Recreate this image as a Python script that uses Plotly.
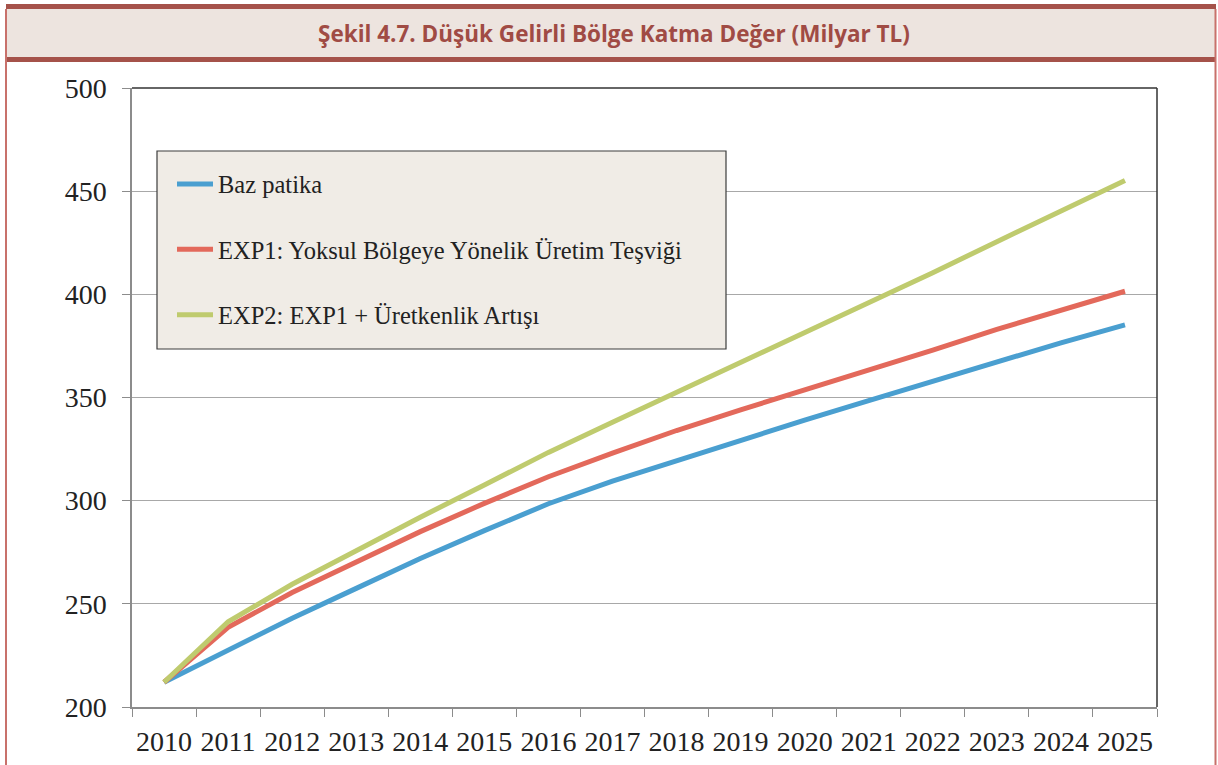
import plotly.graph_objects as go

years = [str(y) for y in range(2010, 2026)]
baz = [212, 227.5, 243, 257.5, 272, 285.5, 298.5, 309.5, 319.5, 329.5, 339, 348.5, 358, 367.5, 376.5, 385.2]
exp1 = [212, 238.6, 255.5, 270.5, 285, 298.7, 311.6, 323, 334, 344, 353.5, 363, 373, 383, 392.5, 401.5]
exp2 = [212, 241.3, 259.5, 276, 292, 307.6, 323.4, 338, 352.5, 367, 381, 396, 410.5, 425.5, 440.5, 455.2]
names = ["Baz patika", "EXP1: Yoksul Bölgeye Yönelik Üretim Teşviği", "EXP2: EXP1 + Üretkenlik Artışı"]
colors = ["#4A9FD0", "#E3695B", "#BFCB6E"]
title_text = "Şekil 4.7. Düşük Gelirli Bölge Katma Değer (Milyar TL)"
y_ticks = [200, 250, 300, 350, 400, 450, 500]

W, H = 1218, 765
L, R, T, B = 132, 1157, 88, 707


def px(x):
    return (x - L) / (R - L)


def py(y):
    return (B - y) / (B - T)


fig = go.Figure()
for i, (vals, nm, col) in enumerate(zip([baz, exp1, exp2], names, colors)):
    fig.add_trace(go.Scatter(
        x=years, y=vals, name=nm, mode="lines",
        line=dict(color=col, width=5),
        legendgroup=f"g{i}",
    ))

band = "#A5524A"
edge = "#C8716B"
shapes = [
    dict(type="rect", xref="paper", yref="paper", x0=px(6), x1=px(1216), y0=py(57), y1=py(9),
         fillcolor="#EDE4DF", line=dict(width=0), layer="below"),
    dict(type="rect", xref="paper", yref="paper", x0=px(6), x1=px(1216), y0=py(9), y1=py(4),
         fillcolor=band, line=dict(width=0), layer="below"),
    dict(type="rect", xref="paper", yref="paper", x0=px(6), x1=px(1216), y0=py(62), y1=py(57),
         fillcolor=band, line=dict(width=0), layer="below"),
    dict(type="line", xref="paper", yref="paper", x0=px(6), x1=px(6), y0=py(766), y1=py(9),
         line=dict(color=edge, width=2)),
    dict(type="line", xref="paper", yref="paper", x0=px(1215.5), x1=px(1215.5), y0=py(766), y1=py(9),
         line=dict(color=edge, width=2)),
    dict(type="rect", xref="paper", yref="paper", x0=px(157), x1=px(726), y0=py(349), y1=py(151),
         fillcolor="#F0ECE6", line=dict(color="#3C3C3C", width=1.2), layer="above"),
    dict(type="line", xref="paper", yref="paper", x0=0, x1=1, y0=1, y1=1,
         line=dict(color="#333333", width=1.5)),
    dict(type="line", xref="paper", yref="paper", x0=1, x1=1, y0=0, y1=1,
         line=dict(color="#333333", width=1.5)),
]

fig.update_layout(
    width=W, height=H,
    margin=dict(l=L, r=W - R, t=T, b=H - B),
    paper_bgcolor="white", plot_bgcolor="white",
    shapes=shapes,
    showlegend=True,
    legend=dict(
        x=px(172), y=py(161.5), xanchor="left", yanchor="top",
        bgcolor="rgba(0,0,0,0)", borderwidth=0,
        font=dict(family="Liberation Serif", size=24.5, color="#222222"),
        tracegroupgap=30.5, itemwidth=36,
    ),
    annotations=[dict(
        text=f"<b>{title_text}</b>", xref="paper", yref="paper",
        x=px(614), y=py(33), xanchor="center", yanchor="middle", showarrow=False,
        font=dict(family="Open Sans", size=22.5, color="#A04B44"),
    )],
)

fig.update_xaxes(
    type="category", range=[-0.5, 15.5], tickangle=0, automargin=False,
    showline=True, linecolor="#8C8C8C", linewidth=1.5,
    ticks="outside", tickson="boundaries", ticklen=8, tickcolor="#8C8C8C",
    showgrid=False, ticklabelstandoff=9,
    tickfont=dict(family="Liberation Serif", size=28, color="#222222"),
)
fig.update_yaxes(
    range=[200, 500], tickvals=y_ticks, automargin=False,
    showline=True, linecolor="#8C8C8C", linewidth=1.5,
    ticks="outside", ticklen=8, tickcolor="#8C8C8C",
    showgrid=True, gridcolor="#A8A8A8", gridwidth=1, zeroline=False,
    ticklabelstandoff=10,
    tickfont=dict(family="Liberation Serif", size=28, color="#222222"),
)

fig.write_html("out.html", config={"displayModeBar": False},
               post_script="document.body.style.margin='0';document.body.style.overflow='hidden';")
